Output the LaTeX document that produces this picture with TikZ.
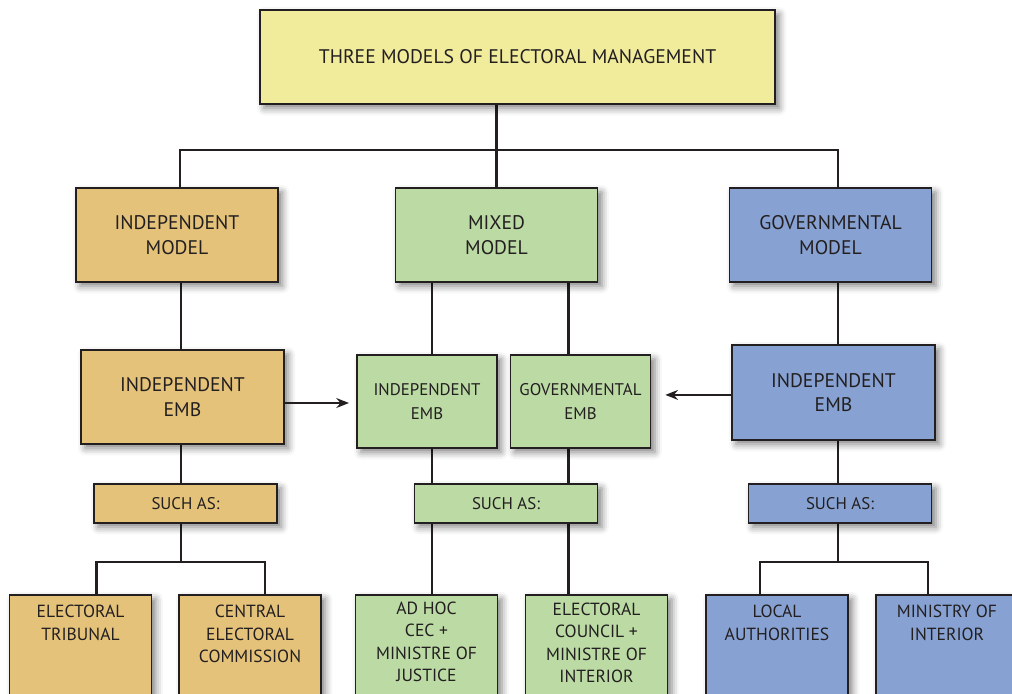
\documentclass[tikz,border=0pt]{standalone}
\usepackage{fontspec}
\setmainfont{PT Sans}
\usetikzlibrary{positioning,shadows.blur,arrows.meta,backgrounds}

\definecolor{titleyellow}{HTML}{F1EC9C}
\definecolor{indtan}{HTML}{E4C27A}
\definecolor{mixgreen}{HTML}{BBDAA4}
\definecolor{govblue}{HTML}{87A2D2}
\definecolor{inkgray}{HTML}{231F20}

\begin{document}
\begin{tikzpicture}[x=0.025cm, y=-0.025cm,
    block/.style={rectangle, draw=inkgray, line width=1.1pt, align=center, text=inkgray, inner sep=0pt,
        font=\fontsize{14}{17.5}\selectfont,
        blur shadow={shadow xshift=3pt, shadow yshift=-3pt, shadow blur radius=5pt, shadow opacity=50}},
    model/.style={block, minimum width=5.05cm, minimum height=2.35cm},
    emb/.style={block, minimum width=3.5cm, minimum height=2.325cm, font=\fontsize{12}{17}\selectfont},
    such/.style={block, minimum width=4.575cm, minimum height=0.975cm, font=\fontsize{12}{14}\selectfont},
    leaf/.style={block, anchor=north, minimum width=3.55cm, minimum height=2.9cm},
    leaftext/.style={anchor=north, yshift=-4.5pt, align=center, text=inkgray, font=\fontsize{12.5}{16}\selectfont},
    wire/.style={draw=inkgray, line width=2.1pt},
    arrow/.style={-{Stealth[length=9pt,width=7pt]}, draw=inkgray, line width=1.6pt}]

    \useasboundingbox (0,0) rectangle (1012,693);
    \clip (0,0) rectangle (1012,693);

    % Title
    \node[block, fill=titleyellow, minimum width=12.875cm, minimum height=2.35cm] (top) at (517.5,57) {THREE MODELS OF ELECTORAL MANAGEMENT};

    % Models
    \node[model, fill=indtan] (indmodel) at (177,235) {INDEPENDENT\\MODEL};
    \node[model, fill=mixgreen] (mixmodel) at (496.5,235) {MIXED\\MODEL};
    \node[model, fill=govblue] (govmodel) at (830.5,235) {GOVERNMENTAL\\MODEL};

    % EMBs
    \node[model, fill=indtan, minimum width=5.075cm] (indemb) at (182.5,397) {INDEPENDENT\\EMB};
    \node[emb, fill=mixgreen] (mixind) at (427,401.5) {INDEPENDENT\\EMB};
    \node[emb, fill=mixgreen] (mixgov) at (580.5,401.5) {GOVERNMENTAL\\EMB};
    \node[model, fill=govblue, minimum width=5.075cm, minimum height=2.375cm] (govemb) at (833.5,392.5) {INDEPENDENT\\EMB};

    % Such as
    \node[such, fill=indtan] (indsuch) at (185.5,503.5) {SUCH AS:};
    \node[such, fill=mixgreen] (mixsuch) at (506,503.5) {SUCH AS:};
    \node[such, fill=govblue] (govsuch) at (840,503.5) {SUCH AS:};

    % Examples
    \node[leaf, fill=indtan, label={[leaftext]north:{ELECTORAL\\TRIBUNAL}}] (tribunal) at (80.5,594) {};
    \node[leaf, fill=indtan, label={[leaftext]north:{CENTRAL\\ELECTORAL\\COMMISSION}}] (central) at (250,594) {};
    \node[leaf, fill=mixgreen, label={[leaftext, yshift=2.5pt]north:{AD HOC\\CEC +\\MINISTRE OF\\JUSTICE}}] (adhoc) at (426.5,594) {};
    \node[leaf, fill=mixgreen, label={[leaftext, yshift=2pt]north:{ELECTORAL\\COUNCIL +\\MINISTRE OF\\INTERIOR}}] (council) at (596.5,594) {};
    \node[leaf, fill=govblue, label={[leaftext]north:{LOCAL\\AUTHORITIES}}] (local) at (777,594) {};
    \node[leaf, fill=govblue, label={[leaftext]north:{MINISTRY OF\\INTERIOR}}] (ministry) at (947,594) {};

    \coordinate (topbar) at (0,150);
    \coordinate (indbus) at (181,562);
    \coordinate (govbus) at (838,562);

    % Connect components
    \begin{scope}[on background layer]
    \draw[wire] (top.south -| mixmodel.north) -- (mixmodel.north);
    \draw[wire, line width=1.3pt] ([xshift=0.075cm]indmodel.north) |- (topbar -| govbus) -- (govbus |- govmodel.north);

    \draw[wire] (indmodel.south -| indbus) -- (indbus |- indemb.north);
    \draw[wire] (indbus |- indemb.south) -- (indbus |- indsuch.north);
    \draw[wire] (indsuch.south -| indbus) -- (indbus);
    \draw[wire] ([xshift=0.4cm]tribunal.north) |- (indbus) -| ([xshift=0.375cm]central.north);

    \draw[wire] ([xshift=0.125cm]mixind.north |- mixmodel.south) -- ([xshift=0.125cm]mixind.north);
    \draw[wire] ([xshift=-0.3cm]mixgov.north |- mixmodel.south) -- ([xshift=-0.3cm]mixgov.north);
    \draw[wire] ([xshift=0.125cm]mixind.south) -- ([xshift=0.125cm]mixind.south |- adhoc.north);
    \draw[wire] ([xshift=-0.3cm]mixgov.south) -- ([xshift=-0.3cm]mixgov.south |- council.north);

    \draw[wire] (govbus |- govmodel.south) -- (govbus |- govemb.north);
    \draw[wire] (govbus |- govemb.south) -- (govbus |- govsuch.north);
    \draw[wire] (govsuch.south -| govbus) -- (govbus);
    \draw[wire] ([xshift=-0.425cm]local.north) |- (govbus) -| ([xshift=-0.475cm]ministry.north);
    \end{scope}

    % EMB arrows
    \draw[arrow, shorten >=0.18cm] ([yshift=-0.15cm]indemb.east) -- ([yshift=-0.15cm]indemb.east -| mixind.west);
    \draw[arrow, shorten >=0.35cm] ([yshift=-0.06cm]govemb.west) -- ([yshift=-0.06cm]govemb.west -| mixgov.east);
\end{tikzpicture}
\end{document}
